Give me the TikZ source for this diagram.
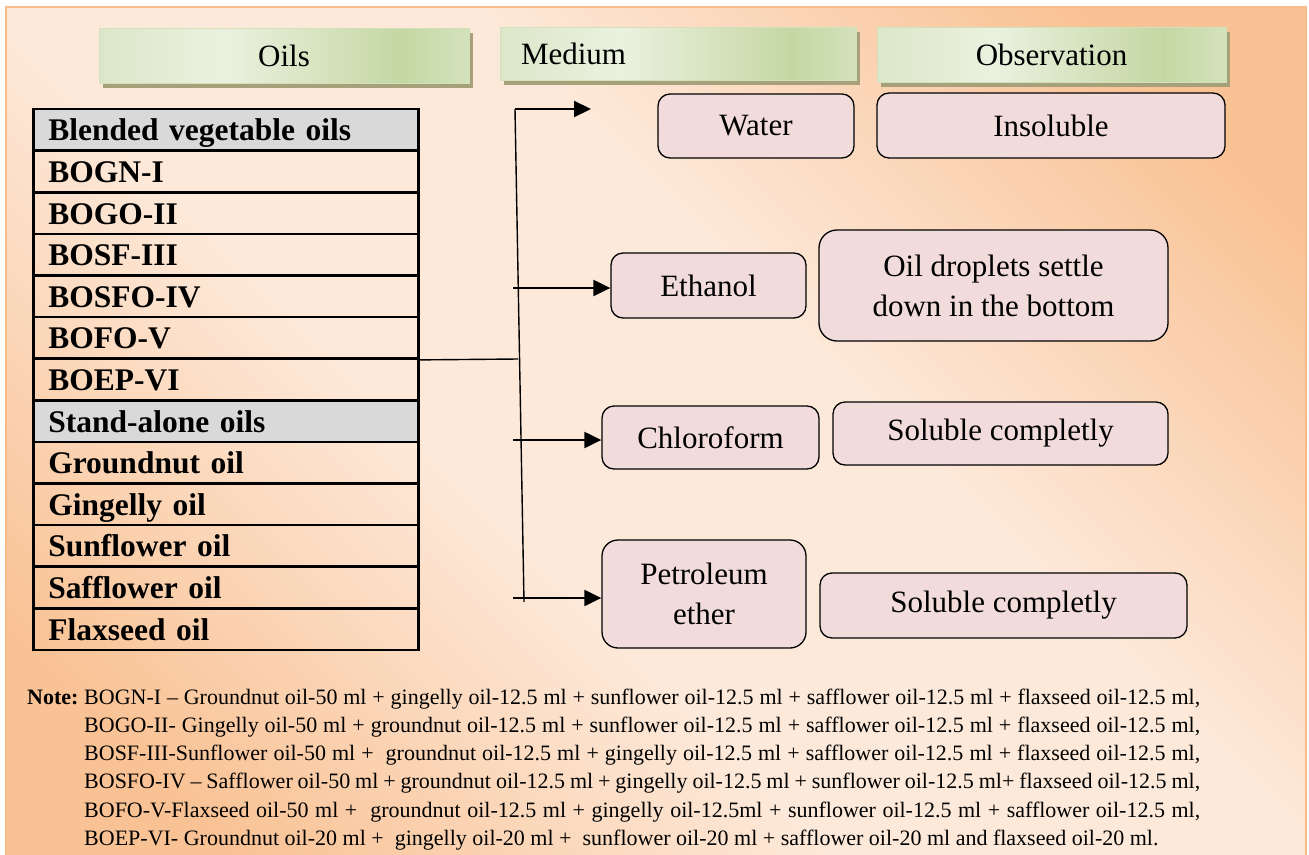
\documentclass[tikz,border=0pt]{standalone}
\usepackage{fontspec}
\setmainfont{Liberation Serif}
\usetikzlibrary{arrows.meta,shadows}
\definecolor{crm}{HTML}{FDE9DA}
\definecolor{orng}{HTML}{F9C294}
\definecolor{bgedge}{HTML}{F8BC8A}
\definecolor{hA}{HTML}{DCE7C9}
\definecolor{hL}{HTML}{EBF1DF}
\definecolor{hD}{HTML}{C4D7A3}
\definecolor{hE}{HTML}{D4E2BC}
\definecolor{hdrB}{HTML}{D3E1BA}
\definecolor{shd}{HTML}{A6A17A}
\definecolor{pinkf}{HTML}{F2DCDB}
\definecolor{grayf}{HTML}{D9D9D9}
\pgfdeclareverticalshading{bgsh}{100bp}{color(0bp)=(orng); color(22bp)=(orng); color(42bp)=(crm); color(58bp)=(crm); color(78bp)=(orng); color(100bp)=(orng)}
\pgfdeclarehorizontalshading{hdrsh}{100bp}{color(0bp)=(hA); color(25bp)=(hA); color(42bp)=(hL); color(66bp)=(hD); color(75bp)=(hE); color(100bp)=(hE)}
\begin{document}
\begin{tikzpicture}[x=1pt,y=-1pt,
  hdr/.style={draw=hdrB, line width=0.8pt, shading=hdrsh, minimum height=55pt, inner sep=0pt,
    general shadow={fill=shd, shadow xshift=4pt, shadow yshift=-5pt},
    font=\fontsize{31}{37}\selectfont},
  rbox/.style={draw=black, line width=1.3pt, fill=pinkf, rounded corners=12pt, inner sep=0pt,
    align=center, font=\fontsize{31}{40}\selectfont},
  tabrow/.style={draw=black, line width=2.6pt, anchor=west, minimum width=385pt, minimum height=41.6pt,
    inner xsep=15pt, inner ysep=0pt, text width=355pt, align=left, text height=24pt, text depth=2pt,
    font=\bfseries\fontsize{31.5}{36}\selectfont},
  grayrow/.style={tabrow, fill=grayf},
  arr/.style={line width=2.2pt, -{Triangle[length=17pt,width=16pt]}},
  ln/.style={line width=1.4pt},
  notef/.style={font=\fontsize{22}{28}\selectfont, inner sep=0pt, anchor=base west}
]
\useasboundingbox (0,0) rectangle (1309,854);
% background
\path[shading=bgsh, shading angle=-45] (6,7) rectangle (1306,858);
\draw[bgedge, line width=1.8pt] (6,858) -- (6,7) -- (1306,7) -- (1306,858);

% headers
\node[hdr, minimum width=370pt] (hoils) at (284,55.5) {Oils};
\node[hdr, minimum width=356pt, minimum height=53pt, text width=314pt, inner xsep=21pt, align=left] (hmed) at (678,53.5) {Medium};
\node[hdr, minimum width=349pt] (hobs) at (1051.5,54.5) {Observation};

% table
\node[grayrow] (r1) at (32,129.8) {Blended vegetable oils};
\node[tabrow] (r2) at (32,171.4) {BOGN-I};
\node[tabrow] (r3) at (32,213.0) {BOGO-II};
\node[tabrow] (r4) at (32,254.6) {BOSF-III};
\node[tabrow] (r5) at (32,296.2) {BOSFO-IV};
\node[tabrow] (r6) at (32,337.8) {BOFO-V};
\node[tabrow] (r7) at (32,379.4) {BOEP-VI};
\node[grayrow] (r8) at (32,421.0) {Stand-alone oils};
\node[tabrow] (r9) at (32,462.6) {Groundnut oil};
\node[tabrow] (r10) at (32,504.2) {Gingelly oil};
\node[tabrow] (r11) at (32,545.8) {Sunflower oil};
\node[tabrow] (r12) at (32,587.4) {Safflower oil};
\node[tabrow] (r13) at (32,629.0) {Flaxseed oil};

% medium and observation boxes
\node[rbox, minimum width=196pt, minimum height=64pt] (water) at (756,126) {Water};
\node[rbox, minimum width=348pt, minimum height=65pt] (insol) at (1051,125.5) {Insoluble};
\node[rbox, minimum width=195pt, minimum height=65pt] (eth) at (708.5,285.5) {Ethanol};
\node[rbox, minimum width=349pt, minimum height=111pt, rounded corners=18pt] (drop) at (993.5,285.5) {Oil droplets settle\\down in the bottom};
\node[rbox, minimum width=217pt, minimum height=63pt] (chl) at (710.5,437.5) {Chloroform};
\node[rbox, minimum width=335pt, minimum height=63pt] (sol1) at (1000.5,433.5) {Soluble completly};
\node[rbox, minimum width=204pt, minimum height=108pt, rounded corners=16pt] (pet) at (704,594) {Petroleum\\ether};
\node[rbox, minimum width=367pt, minimum height=65pt] (sol2) at (1003.5,605.5) {Soluble completly};

% connectors
\coordinate (tTop) at (515,109);
\coordinate (tBot) at (524,602);
\coordinate (tip1) at (591,109);
\coordinate (s2) at (513,288);
\coordinate (s3) at (513,440);
\coordinate (s4) at (513,598);
\coordinate (jn) at (518,359);
\draw[ln] (tTop) -- (tBot);
\draw[ln] (r6.south east) -- (jn);
\draw[arr] (tTop) -- (tip1);
\draw[arr] (s2) -- (s2 -| eth.west);
\draw[arr] (s3) -- (s3 -| chl.west);
\draw[arr] (s4) -- (s4 -| pet.west);

% note
\node[notef, font=\bfseries\fontsize{22}{28}\selectfont] (notelbl) at (27,704) {Note:};
\node[notef] (n1) at (84,704) {\makebox[1116pt][s]{BOGN-I – Groundnut oil-50 ml + gingelly oil-12.5 ml + sunflower oil-12.5 ml + safflower oil-12.5 ml + flaxseed oil-12.5 ml,}};
\node[notef] (n2) at (84,732.3) {\makebox[1116pt][s]{BOGO-II- Gingelly oil-50 ml + groundnut oil-12.5 ml + sunflower oil-12.5 ml + safflower oil-12.5 ml + flaxseed oil-12.5 ml,}};
\node[notef] (n3) at (84,760.6) {\makebox[1116pt][s]{BOSF-III-Sunflower oil-50 ml +\ \ groundnut oil-12.5 ml + gingelly oil-12.5 ml + safflower oil-12.5 ml + flaxseed oil-12.5 ml,}};
\node[notef] (n4) at (84,788.9) {\makebox[1116pt][s]{BOSFO-IV – Safflower oil-50 ml + groundnut oil-12.5 ml + gingelly oil-12.5 ml + sunflower oil-12.5 ml+ flaxseed oil-12.5 ml,}};
\node[notef] (n5) at (84,817.2) {\makebox[1116pt][s]{BOFO-V-Flaxseed oil-50 ml +\ \ groundnut oil-12.5 ml + gingelly oil-12.5ml + sunflower oil-12.5 ml + safflower oil-12.5 ml,}};
\node[notef] (n6) at (84,845.5) {BOEP-VI- Groundnut oil-20 ml +\ \ gingelly oil-20 ml +\ \ sunflower oil-20 ml + safflower oil-20 ml and flaxseed oil-20 ml.};
\end{tikzpicture}
\end{document}
